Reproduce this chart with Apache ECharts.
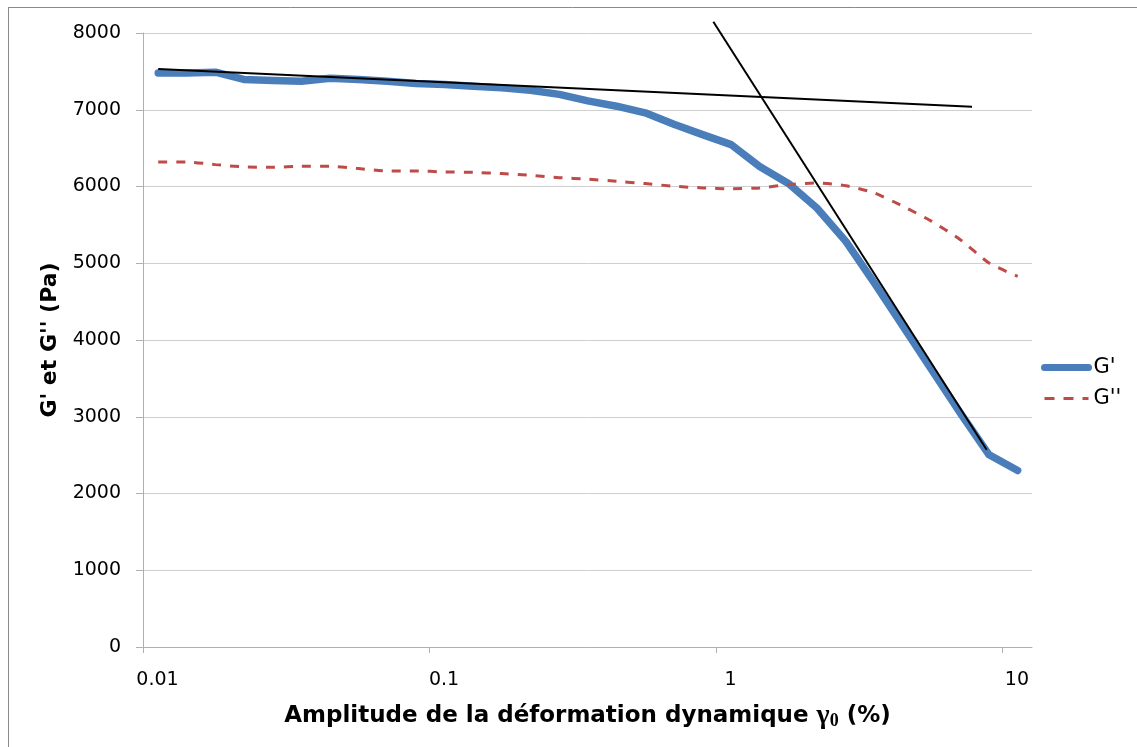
<!DOCTYPE html>
<html>
<head>
<meta charset="utf-8">
<script src="https://cdn.jsdelivr.net/npm/echarts@6/dist/echarts.min.js"></script>
<style>
  html, body { margin: 0; padding: 0; background: #ffffff; }
  #chart { width: 1137px; height: 747px; }
</style>
</head>
<body>
<div id="chart"></div>
<script>
// Strain amplitude sweep (gamma0, %)
const strain = [0.0113, 0.0142, 0.0179, 0.0225, 0.0284, 0.0357, 0.0450, 0.0566, 0.0713, 0.0898,
                0.113, 0.142, 0.179, 0.225, 0.284, 0.357, 0.450, 0.566, 0.713, 0.898,
                1.13, 1.42, 1.79, 2.25, 2.84, 3.57, 4.50, 5.66, 7.13, 8.98, 11.3];
// Storage modulus G' (Pa)
const gPrime = [7480, 7480, 7490, 7395, 7380, 7372, 7410, 7395, 7370, 7342,
                7330, 7306, 7285, 7254, 7200, 7115, 7046, 6960, 6810, 6676,
                6546, 6260, 6040, 5720, 5285, 4743, 4177, 3612, 3047, 2504, 2299];
// Loss modulus G'' (Pa)
const gSecond = [6320, 6320, 6285, 6255, 6250, 6263, 6263, 6233, 6203, 6203,
                 6190, 6185, 6168, 6146, 6115, 6095, 6068, 6038, 6003, 5982,
                 5970, 5982, 6024, 6047, 6011, 5916, 5742, 5546, 5307, 5003, 4829];
// Tangents: linear plateau and the collapse of G'
const plateauLine = [[0.0113, 7530], [7.83, 7040]];
const collapseLine = [[0.979, 8146], [8.81, 2569]];
// Axis ticks
const xTicks = [0.01, 0.1, 1, 10];

const font = 'DejaVu Sans';
const toPairs = (xs, ys) => xs.map((x, i) => [x, ys[i]]);

const chart = echarts.init(document.getElementById('chart'), null, { renderer: 'canvas' });
chart.setOption({
  animation: false,
  backgroundColor: '#ffffff',
  textStyle: { fontFamily: font },
  grid: { left: 143, right: 105, top: 33, bottom: 100, containLabel: false },
  graphic: [
    { type: 'line', shape: { x1: 8, y1: 7.5, x2: 1137, y2: 7.5 }, style: { stroke: '#8a8a8a', lineWidth: 1 } },
    { type: 'line', shape: { x1: 8.5, y1: 7, x2: 8.5, y2: 747 }, style: { stroke: '#8a8a8a', lineWidth: 1 } }
  ],
  legend: {
    orient: 'vertical',
    left: 1036,
    top: 352,
    padding: 5,
    itemWidth: 44,
    itemHeight: 14,
    itemGap: 10,
    data: [
      { name: "G'", itemStyle: { opacity: 0 },
        lineStyle: { color: '#4a7ebb', width: 7, cap: 'round' } },
      { name: "G''", itemStyle: { opacity: 0 },
        lineStyle: { color: '#be4b48', width: 3, type: [10, 9] } }
    ],
    textStyle: { fontFamily: font, fontSize: 21, color: '#000000' }
  },
  xAxis: {
    type: 'log',
    logBase: 10,
    min: 0.01,
    max: 12.68,
    name: "Amplitude de la déformation dynamique {g|γ}{s|0} (%)",
    nameLocation: 'middle',
    nameGap: 55,
    nameTextStyle: {
      fontFamily: font, fontSize: 23, fontWeight: 'bold', color: '#000000',
      rich: {
        g: { fontFamily: 'Liberation Serif', fontSize: 28, fontWeight: 'bold', color: '#000000' },
        s: { fontFamily: 'Liberation Serif', fontSize: 18, fontWeight: 'bold', color: '#000000', verticalAlign: 'bottom', lineHeight: 16 }
      }
    },
    axisLine: { show: true, lineStyle: { color: '#b0b0b0', width: 1 } },
    axisTick: { show: true, length: 6, customValues: xTicks, lineStyle: { color: '#b0b0b0' } },
    axisLabel: {
      customValues: xTicks,
      margin: 24,
      fontSize: 19,
      color: '#000000',
      padding: [0, 0, 0, 29],
      formatter: v => String(v)
    },
    splitLine: { show: false }
  },
  yAxis: {
    type: 'value',
    min: 0,
    max: 8000,
    interval: 1000,
    name: "G' et G'' (Pa)",
    nameLocation: 'middle',
    nameGap: 81,
    nameTextStyle: { fontFamily: font, fontSize: 22, fontWeight: 'bold', color: '#000000' },
    axisLine: { show: true, lineStyle: { color: '#b0b0b0', width: 1 } },
    axisTick: { show: true, length: 7, lineStyle: { color: '#b0b0b0' } },
    axisLabel: { margin: 22, fontSize: 19, color: '#000000', formatter: v => String(v) },
    splitLine: { show: true, lineStyle: { color: '#cfcfcf', width: 1 } }
  },
  series: [
    {
      name: "G'",
      type: 'line',
      data: toPairs(strain, gPrime),
      symbol: 'none',
      color: '#4a7ebb',
      lineStyle: { color: '#4a7ebb', width: 7.5, cap: 'round', join: 'round' },
      z: 2
    },
    {
      name: "G''",
      type: 'line',
      data: toPairs(strain, gSecond),
      symbol: 'none',
      smooth: 0.2,
      color: '#be4b48',
      lineStyle: { color: '#be4b48', width: 3, type: [9, 9] },
      z: 3
    },
    {
      name: 'tangente plateau',
      type: 'line',
      data: plateauLine,
      symbol: 'none',
      clip: false,
      silent: true,
      lineStyle: { color: '#000000', width: 2 },
      z: 4
    },
    {
      name: 'tangente chute',
      type: 'line',
      data: collapseLine,
      symbol: 'none',
      clip: false,
      silent: true,
      lineStyle: { color: '#000000', width: 2 },
      z: 4
    }
  ]
});
</script>
</body>
</html>
